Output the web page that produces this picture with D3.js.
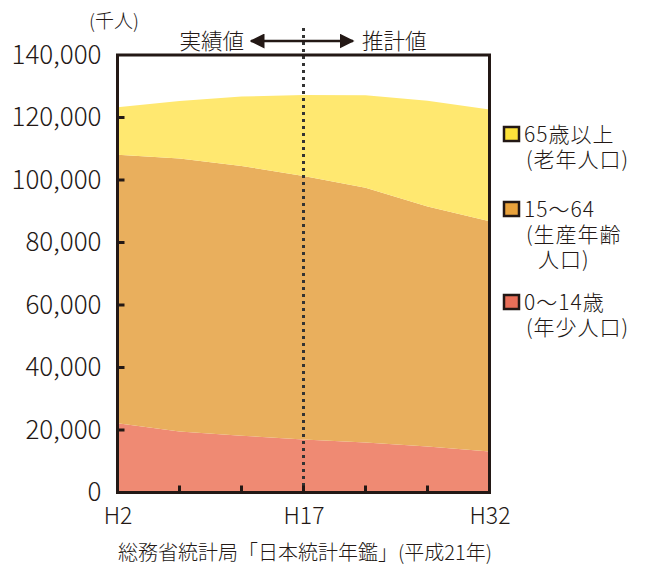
<!DOCTYPE html>
<html>
<head>
<meta charset="utf-8">
<script src="https://cdn.jsdelivr.net/npm/d3@7"></script>
<style>
  html, body { margin: 0; padding: 0; background: #fff; }
  svg { display: block; }
  text { font-family: "Noto Sans CJK JP", "Noto Sans", sans-serif; fill: #231815; font-weight: 300; }
</style>
</head>
<body>
<svg id="chart" width="648" height="565"></svg>
<script>
// Population by age group, thousands of people (H2–H17 actual, H22–H32 projected)
const years = ["H2", "H7", "H12", "H17", "H22", "H27", "H32"];
const young = [22200, 19500, 18200, 17000, 16000, 14700, 13100];     // 0〜14歳
const working = [85900, 87400, 86300, 84300, 81500, 76800, 73700];   // 15〜64
const elderly = [15200, 18400, 22200, 25900, 29600, 33900, 35800];   // 65歳以上
const yTicks = [0, 20000, 40000, 60000, 80000, 100000, 120000, 140000];
const xLabels = ["H2", "H17", "H32"];
const splitYear = "H17";

const seriesKeys = ["young", "working", "elderly"];
const fills = { young: "#ef8a73", working: "#e9af5d", elderly: "#ffe870" };
const swatches = { young: "#ea6f59", working: "#e9a23c", elderly: "#fde23a" };
const legendText = {
  elderly: ["65歳以上", "(老年人口)"],
  working: ["15〜64", "(生産年齢", "人口)"],
  young: ["0〜14歳", "(年少人口)"]
};

const rows = years.map((yr, i) => ({ year: yr, young: young[i], working: working[i], elderly: elderly[i] }));

const svg = d3.select("#chart");
const plotL = 117.5, plotR = 489.5, plotT = 55, plotB = 492.5;

const x = d3.scalePoint().domain(years).range([plotL, plotR]);
const y = d3.scaleLinear().domain([0, 140000]).range([plotB, plotT]);

const stack = d3.stack().keys(seriesKeys)(rows);
const area = d3.area()
  .x(d => x(d.data.year))
  .y0(d => y(d[0]))
  .y1(d => y(d[1]));

svg.append("g").selectAll("path").data(stack).join("path")
  .attr("d", area)
  .attr("fill", d => fills[d.key]);

// Divider between actual and projected values
svg.append("line")
  .attr("x1", x(splitYear)).attr("x2", x(splitYear))
  .attr("y1", 28).attr("y2", plotB)
  .attr("stroke", "#333").attr("stroke-width", 3)
  .attr("stroke-dasharray", "3 4");

// Frame
svg.append("rect")
  .attr("x", plotL).attr("y", plotT)
  .attr("width", plotR - plotL).attr("height", plotB - plotT)
  .attr("fill", "none").attr("stroke", "#231815").attr("stroke-width", 3);

// Y axis: inward ticks, labels on the left
const yAxis = d3.axisLeft(y).tickValues(yTicks).tickSize(0).tickPadding(16)
  .tickFormat(d3.format(","));
const gy = svg.append("g").attr("transform", `translate(${plotL},0)`).call(yAxis);
gy.select(".domain").remove();
gy.selectAll("text").style("font-family", "'Noto Sans CJK JP', sans-serif")
  .style("font-weight", 300).style("font-size", "26px").attr("fill", "#231815");
svg.append("g").selectAll("line").data(yTicks.filter(v => v > 0 && v < 140000)).join("line")
  .attr("x1", plotL).attr("x2", plotL + 7)
  .attr("y1", d => y(d)).attr("y2", d => y(d))
  .attr("stroke", "#231815").attr("stroke-width", 3);

// X axis: inward ticks at every period, labels at three
svg.append("g").selectAll("line").data(years.slice(1, -1)).join("line")
  .attr("x1", d => x(d)).attr("x2", d => x(d))
  .attr("y1", plotB).attr("y2", plotB - 7)
  .attr("stroke", "#231815").attr("stroke-width", 3);
const xAxis = d3.axisBottom(x).tickValues(xLabels).tickSize(0).tickPadding(15);
const gx = svg.append("g").attr("transform", `translate(0,${plotB})`).call(xAxis);
gx.select(".domain").remove();
gx.selectAll("text").style("font-family", "'Noto Sans CJK JP', sans-serif")
  .style("font-weight", 300).style("font-size", "23px").attr("fill", "#231815");

// Unit label
svg.append("text").attr("x", 89).attr("y", 28)
  .style("font-size", "19px").text("(千人)");

// Actual / projected marker
svg.append("defs").append("marker")
  .attr("id", "head").attr("viewBox", "0 0 10 10")
  .attr("refX", 9).attr("refY", 5)
  .attr("markerWidth", 6).attr("markerHeight", 6)
  .attr("markerUnits", "strokeWidth")
  .attr("orient", "auto-start-reverse")
  .append("path").attr("d", "M0,0 L10,5 L0,10 z").attr("fill", "#231815");
svg.append("line")
  .attr("x1", 251).attr("x2", 353).attr("y1", 41).attr("y2", 41)
  .attr("stroke", "#231815").attr("stroke-width", 2.5)
  .attr("marker-start", "url(#head)").attr("marker-end", "url(#head)");
svg.append("text").attr("x", 244).attr("y", 49).attr("text-anchor", "end")
  .style("font-size", "21.5px").text("実績値");
svg.append("text").attr("x", 362).attr("y", 49)
  .style("font-size", "21.5px").text("推計値");

// Legend: swatch plus a multi-line label per group
const legendRow = { elderly: 134, working: 209, young: 302 };
const lg = svg.append("g");
["elderly", "working", "young"].forEach(k => {
  const cy = legendRow[k];
  lg.append("rect").attr("x", 504).attr("y", cy - 7).attr("width", 15).attr("height", 14)
    .attr("fill", swatches[k]).attr("stroke", "#231815").attr("stroke-width", 2.5);
  const t = lg.append("text").attr("y", cy + 8)
    .style("font-size", "21px").style("letter-spacing", "1px");
  legendText[k].forEach((line, i) => {
    const indent = i === 0 ? 524 : (line.startsWith("(") ? 526 : 538);
    t.append("tspan").attr("x", indent).attr("y", cy + 8 + i * 25).text(line);
  });
});

// Source
svg.append("text").attr("x", 305).attr("y", 560).attr("text-anchor", "middle")
  .style("font-size", "20px")
  .text("総務省統計局「日本統計年鑑」(平成21年)");
</script>
</body>
</html>
